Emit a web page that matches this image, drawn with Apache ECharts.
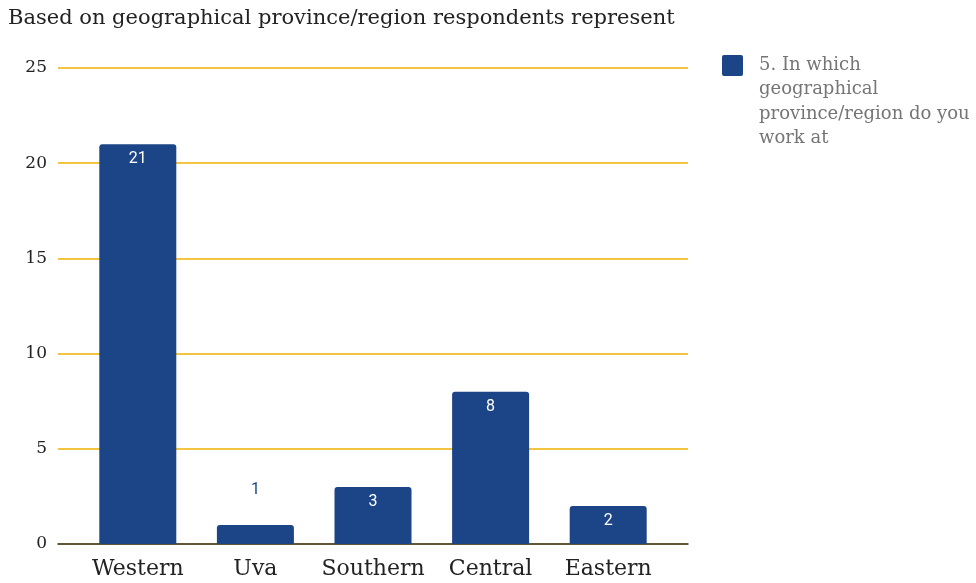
<!DOCTYPE html>
<html>
<head>
<meta charset="utf-8">
<script src="https://cdn.jsdelivr.net/npm/echarts@6/dist/echarts.min.js"></script>
<style>
  html, body { margin: 0; padding: 0; background: #ffffff; }
  #chart { width: 976px; height: 583px; }
</style>
</head>
<body>
<div id="chart"></div>
<script>
// Respondents by province / region
const chartTitle = 'Based on geographical province/region respondents represent';
const seriesName = '5. In which geographical province/region do you work at';
const legendLines = ['5. In which', 'geographical', 'province/region do you', 'work at'];
const categories = ['Western', 'Uva', 'Southern', 'Central', 'Eastern'];
const values = [21, 1, 3, 8, 2];
const yTicks = [0, 5, 10, 15, 20, 25];

const barColor = '#1c4587';
const gridColor = '#f3c43f';
const serif = '"DejaVu Serif", "Liberation Serif", serif';

// Short bars carry their label above the bar instead of inside it
const barData = values.map(function (v) {
  if (v < 2) {
    return {
      value: v,
      label: { position: 'top', distance: 27, color: barColor }
    };
  }
  return v;
});

const chart = echarts.init(document.getElementById('chart'), null, { renderer: 'canvas' });

chart.setOption({
  backgroundColor: '#ffffff',
  animation: false,
  title: {
    text: chartTitle,
    left: 3,
    top: 3,
    textStyle: { fontFamily: serif, fontSize: 21, fontWeight: 'normal', color: '#222222' }
  },
  // legend swatch and wrapped series name, top-aligned
  graphic: [
    {
      type: 'rect',
      left: 722,
      top: 55,
      shape: { width: 21, height: 21, r: 2 },
      style: { fill: barColor }
    },
    {
      type: 'text',
      left: 759,
      top: 53,
      style: {
        text: legendLines.join('\n'),
        fontFamily: serif,
        fontSize: 18,
        lineHeight: 24.5,
        fill: '#757575'
      }
    }
  ],
  grid: [
    // full-width frame: gridlines, baseline and value labels
    { left: 58, right: 288, top: 68, bottom: 39, containLabel: false },
    // bar area
    { left: 79, right: 309, top: 68, bottom: 39, containLabel: false }
  ],
  xAxis: [
    {
      gridIndex: 0,
      type: 'value',
      min: 0,
      max: 1,
      axisLine: { show: true, lineStyle: { color: '#333333', width: 1.5 } },
      axisTick: { show: false },
      axisLabel: { show: false },
      splitLine: { show: false }
    },
    {
      gridIndex: 1,
      type: 'category',
      data: categories,
      axisLine: { show: false },
      axisTick: { show: false },
      axisLabel: {
        interval: 0,
        hideOverlap: false,
        margin: 14,
        fontFamily: serif,
        fontSize: 22,
        color: '#222222'
      }
    }
  ],
  yAxis: [
    {
      gridIndex: 0,
      type: 'value',
      min: yTicks[0],
      max: yTicks[yTicks.length - 1],
      interval: 5,
      axisLine: { show: false },
      axisTick: { show: false },
      axisLabel: {
        margin: 11,
        fontFamily: serif,
        fontSize: 17,
        color: '#222222'
      },
      splitLine: { show: true, lineStyle: { color: gridColor, width: 2 } }
    },
    {
      gridIndex: 1,
      type: 'value',
      min: yTicks[0],
      max: yTicks[yTicks.length - 1],
      interval: 5,
      show: false,
      splitLine: { show: false }
    }
  ],
  series: [
    {
      name: seriesName,
      type: 'bar',
      xAxisIndex: 1,
      yAxisIndex: 1,
      data: barData,
      barWidth: 77,
      itemStyle: { color: barColor, borderRadius: [3, 3, 0, 0] },
      label: {
        show: true,
        position: 'insideTop',
        distance: 7,
        color: '#ffffff',
        fontFamily: 'Roboto, sans-serif',
        fontSize: 16
      }
    }
  ]
});
</script>
</body>
</html>
